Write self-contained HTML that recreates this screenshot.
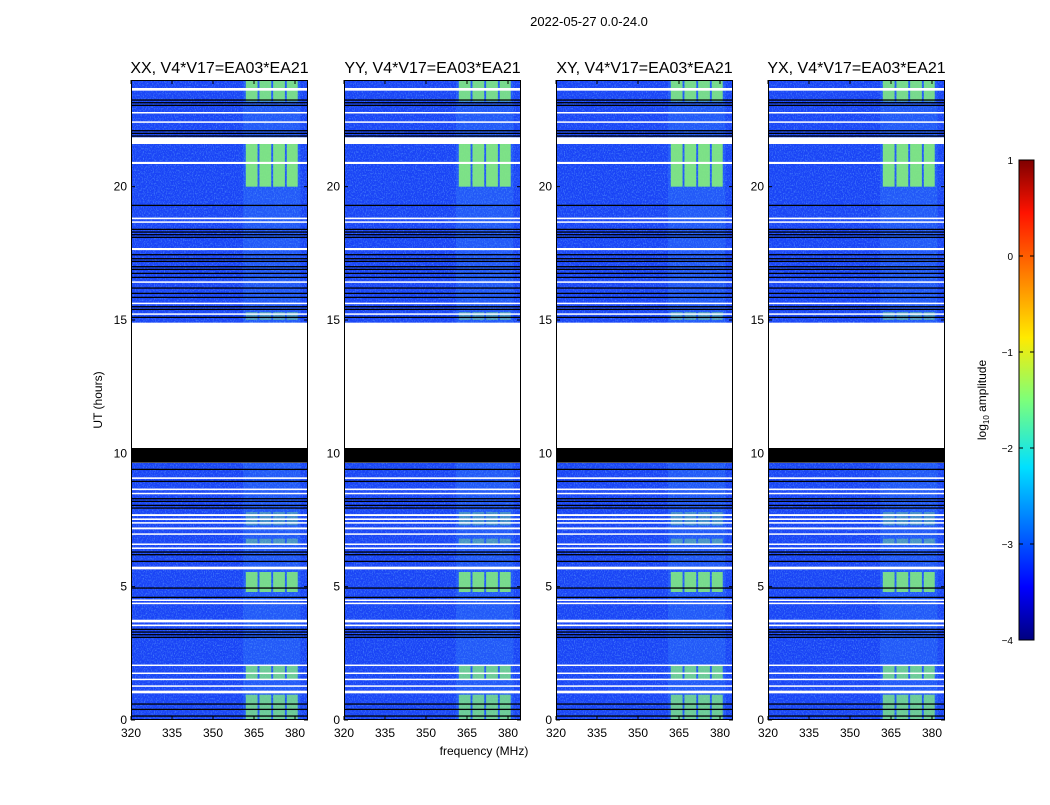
<!DOCTYPE html>
<html><head><meta charset="utf-8"><style>
body{margin:0;background:#fff;}
svg text{font-family:"Liberation Sans",sans-serif;fill:#000;}
</style></head><body>
<svg id="fig" width="1050" height="800" xmlns="http://www.w3.org/2000/svg">
<defs>
<filter id="noise" x="0" y="0" width="100%" height="100%">
<feTurbulence type="fractalNoise" baseFrequency="0.9 0.6" numOctaves="2" seed="3" result="t"/>
<feColorMatrix in="t" type="matrix" values="0 0 0 0 0.2  0 0 0 0 0.6  0 0 0 0 1  0 0 0 1.6 -0.75"/>
</filter>
<linearGradient id="jet" x1="0" y1="1" x2="0" y2="0">
<stop offset="0" stop-color="#00007f"/><stop offset="0.11" stop-color="#0000ff"/>
<stop offset="0.36" stop-color="#00e0ff"/><stop offset="0.5" stop-color="#7dff7a"/>
<stop offset="0.63" stop-color="#ffea00"/><stop offset="0.89" stop-color="#ff1300"/>
<stop offset="1" stop-color="#7f0000"/></linearGradient>
</defs>
<text x="589" y="26" font-size="13" text-anchor="middle">2022-05-27 0.0-24.0</text>
<text x="484" y="755" font-size="12" text-anchor="middle">frequency (MHz)</text>
<text transform="translate(102,400) rotate(-90)" font-size="12" text-anchor="middle">UT (hours)</text>
<g id="panels"></g>
<g id="cbar"></g>
</svg>
<script>
const panelTitles = ["XX, V4*V17=EA03*EA21","YY, V4*V17=EA03*EA21","XY, V4*V17=EA03*EA21","YX, V4*V17=EA03*EA21"];
const xTicks = [320,335,350,365,380];
const yTicks = [0,5,10,15,20];
const bandCols = [[362,366.3],[367,371.3],[372,376.3],[377,381]];
// bright RFI time segments [startHour, endHour, opacity]
const brightSegs = [[23.2,24,0.85],[20.0,21.6,0.9],[4.8,5.55,0.85],[1.5,2.05,0.75],[0,0.95,0.75],[15.0,15.3,0.4],[7.3,7.8,0.35],[6.6,6.8,0.4]];
// white (flagged) rows [start, end]
const whiteRows = [[23.6,23.7],[21.6,21.85],[20.85,20.93],[18.78,18.84],[18.66,18.7],[17.62,17.7],[9.64,9.7],[9.04,9.1],[8.62,8.68],[8.48,8.52],[7.65,7.72],[7.5,7.56],[7.38,7.42],[7.15,7.22],[6.95,7.0],[6.58,6.62],[6.43,6.47],[5.65,5.75],[4.48,4.52],[4.36,4.4],[3.66,3.76],[3.52,3.58],[2.03,2.08],[1.74,1.78],[1.5,1.55],[1.25,1.3],[1.0,1.1],[16.4,16.45],[15.6,15.65],[15.2,15.25],[22.4,22.45],[22.75,22.8]];
// black rows (hour centers)
const blackRows = [23.25,23.15,23.05,22.1,22.0,21.9,19.3,18.4,18.3,18.2,18.1,17.45,17.3,17.2,17.0,16.9,16.75,16.6,16.2,16.0,15.85,15.5,15.4,15.1,9.4,8.95,8.3,8.2,8.05,7.95,6.3,6.2,5.95,4.95,4.6,3.4,3.3,3.2,3.1,0.6,0.4,0.15];
const flaggedBlock = [10.2,14.9];
const blackBlock = [9.65,10.2];
const cbarTicks = [1,0,-1,-2,-3,-4];
const cbarLabels = ["1","0","\u22121","\u22122","\u22123","\u22124"];

const NS="http://www.w3.org/2000/svg";
const panelX=[131,344,556,768], PW=177, PT=80, PB=720;
function yH(h){return PB-(h/24)*(PB-PT);}
function xF(f,p){return panelX[p]+(f-320)*(41/15);}
function mk(tag,attrs,parent){const e=document.createElementNS(NS,tag);for(const k in attrs)e.setAttribute(k,attrs[k]);parent.appendChild(e);return e;}
const G=document.getElementById('panels');
for(let p=0;p<4;p++){
  const g=mk('g',{},G);
  
  
  const x0=panelX[p];
  const bg=mk('rect',{x:x0,y:PT,width:PW,height:PB-PT,fill:'#1a44f6'},g);
  
  
  mk('rect',{x:x0,y:PT,width:PW,height:PB-PT,filter:'url(#noise)',opacity:0.75},g);
  const rfi=mk('rect',{x:xF(361,p),y:PT,width:xF(382,p)-xF(361,p),height:PB-PT,fill:'#3fa0ff',opacity:0.22},g);
  
  
  brightSegs.forEach(s=>{bandCols.forEach(c=>{
    const r=mk('rect',{x:xF(c[0],p),y:yH(s[1]),width:xF(c[1],p)-xF(c[0],p),height:yH(s[0])-yH(s[1]),fill:'#86f07a',opacity:s[2]},g);
    
    
  });});
  blackRows.forEach(h=>{
    const r=mk('rect',{x:x0,y:yH(h)-0.6,width:PW,height:1.3,fill:'#000'},g);
    
    
  });
  whiteRows.forEach(w=>{
    const r=mk('rect',{x:x0,y:yH(w[1]),width:PW,height:Math.max(1.5,yH(w[0])-yH(w[1])),fill:'#fff'},g);
    
    
  });
  const fb=mk('rect',{x:x0,y:yH(flaggedBlock[1]),width:PW,height:yH(flaggedBlock[0])-yH(flaggedBlock[1]),fill:'#fff'},g);
  
  
  const bb=mk('rect',{x:x0,y:yH(blackBlock[1]),width:PW,height:yH(blackBlock[0])-yH(blackBlock[1]),fill:'#000'},g);
  
  
  const fr=mk('rect',{x:x0+0.5,y:PT+0.5,width:PW-1,height:PB-PT-1,fill:'none',stroke:'#000','stroke-width':1},g);
  
  
  const t=mk('text',{x:x0+PW/2,y:73,'font-size':16,'text-anchor':'middle'},g);
  t.textContent=panelTitles[p];
  
  
  xTicks.forEach(f=>{
    const x=xF(f,p);
    mk('line',{x1:x,x2:x,y1:PB,y2:PB-4,stroke:'#000'},g);
    mk('line',{x1:x,x2:x,y1:PT,y2:PT+4,stroke:'#000'},g);
    const l=mk('text',{x:x,y:737,'font-size':12,'text-anchor':'middle'},g);
    l.textContent=f;
    
    
  });
  yTicks.forEach(h=>{
    const y=yH(h);
    mk('line',{x1:x0,x2:x0+4,y1:y,y2:y,stroke:'#000'},g);
    mk('line',{x1:x0+PW,x2:x0+PW-4,y1:y,y2:y,stroke:'#000'},g);
    const l=mk('text',{x:x0-4,y:y+4,'font-size':12,'text-anchor':'end'},g);
    l.textContent=h;
    
    
  });
}
const C=document.getElementById('cbar');
const cb=mk('rect',{x:1019,y:160,width:15,height:480,fill:'url(#jet)',stroke:'#000','stroke-width':1},C);


cbarTicks.forEach((v,i)=>{
  const y=160+(1-v)/5*480;
  mk('line',{x1:1019,x2:1023,y1:y,y2:y,stroke:'#000'},C);
  mk('line',{x1:1034,x2:1030,y1:y,y2:y,stroke:'#000'},C);
  const l=mk('text',{x:1013,y:y+4,'font-size':10,'text-anchor':'end'},C);
  l.textContent=cbarLabels[i];
  
  
});
const cl=mk('text',{transform:'translate(986,400) rotate(-90)','font-size':12,'text-anchor':'middle'},C);
cl.innerHTML='log<tspan font-size="8" dy="3">10</tspan><tspan dy="-3"> amplitude</tspan>';


</script>
</body></html>
